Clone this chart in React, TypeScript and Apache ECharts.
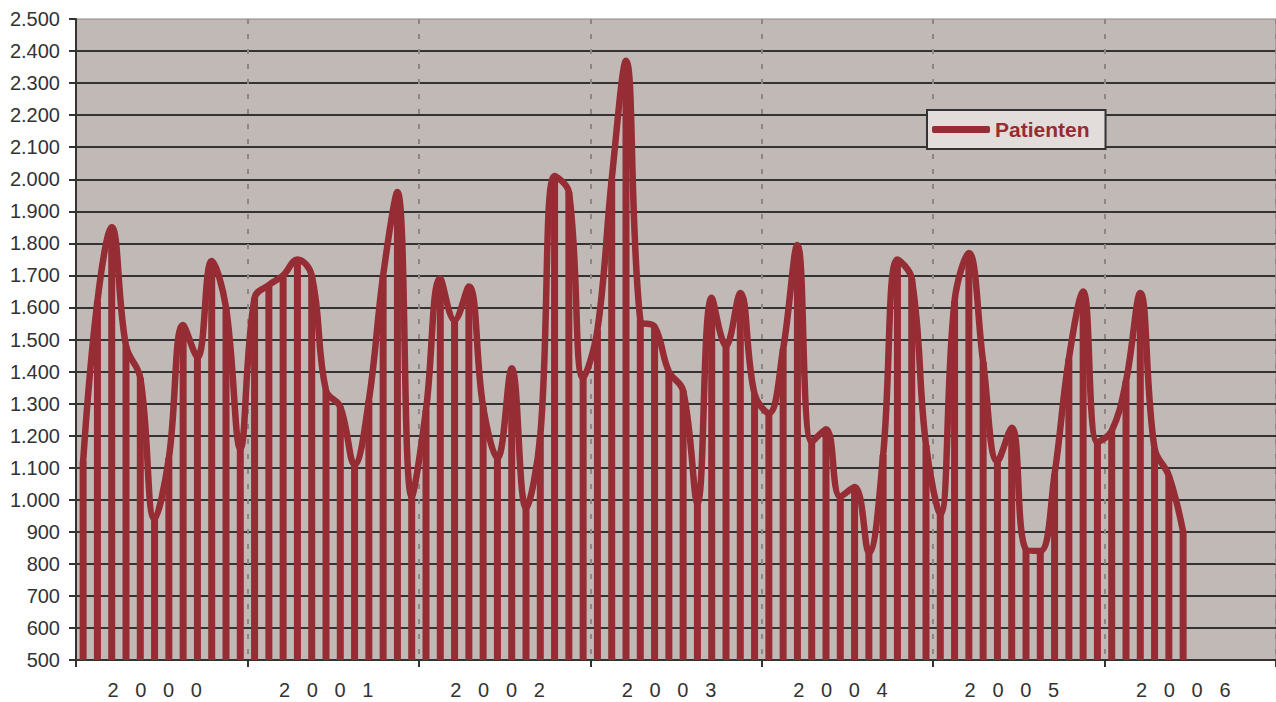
import React, { useEffect, useRef } from "react";
import * as echarts from "echarts";

// Year labels of the x axis
const years = ["2000", "2001", "2002", "2003", "2004", "2005", "2006"];
const monthsPerYear = 12;

// Monthly patient counts
const y2000 = [1120, 1620, 1850, 1480, 1380, 940, 1130, 1545, 1445, 1745, 1600, 1160];
const y2001 = [1630, 1670, 1700, 1750, 1700, 1340, 1290, 1110, 1310, 1700, 1960, 1010];
const y2002 = [1280, 1690, 1560, 1665, 1290, 1130, 1410, 975, 1200, 2010, 1960, 1380];
const y2003 = [1530, 2000, 2370, 1560, 1540, 1400, 1340, 990, 1630, 1480, 1645, 1330];
const y2004 = [1270, 1470, 1795, 1180, 1220, 1010, 1040, 835, 1140, 1750, 1690, 1170];
const y2005 = [955, 1620, 1770, 1430, 1120, 1225, 845, 840, 1080, 1440, 1650, 1180];
const y2006 = [1215, 1370, 1645, 1160, 1075, 900];

const patienten: number[] = [...y2000, ...y2001, ...y2002, ...y2003, ...y2004, ...y2005, ...y2006];

// Month categories (Jan 2000 .. Dec 2006)
const monthCats: string[] = [];
years.forEach((yr) => {
  for (let m = 1; m <= monthsPerYear; m++) monthCats.push(`${yr}-${String(m).padStart(2, "0")}`);
});

const LINE_COLOR = "#962C34";
const TEXT_COLOR = "#333333";
const FONT = "'Liberation Sans', Arial, sans-serif";

function fmtThousands(v: number): string {
  if (v >= 1000) {
    return `${Math.floor(v / 1000)}.${String(v % 1000).padStart(3, "0")}`;
  }
  return String(v);
}

export default function App() {
  const ref = useRef<HTMLDivElement>(null);

  useEffect(() => {
    if (!ref.current) return;
    const chart = echarts.init(ref.current, null, { renderer: "svg" });
    const padded = monthCats.map((_, i) => (i < patienten.length ? patienten[i] : null));

    chart.setOption({
      animation: false,
      backgroundColor: "#ffffff",
      textStyle: { fontFamily: FONT },
      grid: {
        left: 76,
        top: 19,
        width: 1200,
        height: 641,
        show: true,
        backgroundColor: "#C1B9B6",
        borderColor: "#8d8584",
        borderWidth: 1,
        containLabel: false,
      },
      legend: {
        data: [{ name: "Patienten", icon: "roundRect" }],
        left: 927,
        top: 110,
        orient: "horizontal",
        itemWidth: 58,
        itemHeight: 7,
        padding: [9, 16, 9, 5],
        backgroundColor: "#E2DCDA",
        borderColor: "#333333",
        borderWidth: 2,
        borderRadius: 0,
        selectedMode: false,
        textStyle: {
          color: LINE_COLOR,
          fontSize: 21,
          fontWeight: "bold",
          fontFamily: FONT,
        },
      },
      xAxis: [
        {
          type: "category",
          data: monthCats,
          boundaryGap: true,
          position: "bottom",
          axisLine: { show: true, lineStyle: { color: "#333333", width: 2 } },
          axisTick: { show: false },
          axisLabel: { show: false },
          splitLine: { show: false },
        },
        {
          type: "category",
          data: years,
          boundaryGap: true,
          position: "bottom",
          axisLine: { show: false },
          axisTick: { show: true, length: 7, inside: false, lineStyle: { color: "#333333", width: 2 } },
          axisLabel: {
            show: true,
            margin: 20,
            color: TEXT_COLOR,
            fontSize: 20,
            fontFamily: FONT,
            padding: [0, 14, 0, 0],
            formatter: (v: string) => v.split("").join("   "),
          },
          splitLine: {
            show: true,
            lineStyle: { color: "#8E8585", width: 2, type: [5, 10] },
          },
        },
      ],
      yAxis: {
        type: "value",
        min: 500,
        max: 2500,
        interval: 100,
        axisLine: { show: true, lineStyle: { color: "#333333", width: 2 } },
        axisTick: { show: true, length: 7, inside: false, lineStyle: { color: "#333333", width: 2 } },
        axisLabel: {
          margin: 16,
          color: TEXT_COLOR,
          fontSize: 20,
          fontFamily: FONT,
          formatter: (v: number) => fmtThousands(v),
        },
        splitLine: {
          show: true,
          showMaxLine: false,
          lineStyle: { color: "#333333", width: 2 },
        },
      },
      series: [
        {
          name: "drop",
          type: "bar",
          xAxisIndex: 0,
          data: padded,
          barWidth: 7,
          itemStyle: { color: LINE_COLOR },
          silent: true,
          clip: true,
        },
        {
          name: "Patienten",
          type: "line",
          xAxisIndex: 0,
          data: padded,
          smooth: 0.4,
          symbol: "none",
          lineStyle: { color: LINE_COLOR, width: 6.5, cap: "round", join: "round" },
          itemStyle: { color: LINE_COLOR },
          connectNulls: false,
        },
      ],
    });

    return () => chart.dispose();
  }, []);

  return (
    <div
      ref={ref}
      style={{ position: "fixed", left: 0, top: 0, width: 1276, height: 702, background: "#fff" }}
    />
  );
}
